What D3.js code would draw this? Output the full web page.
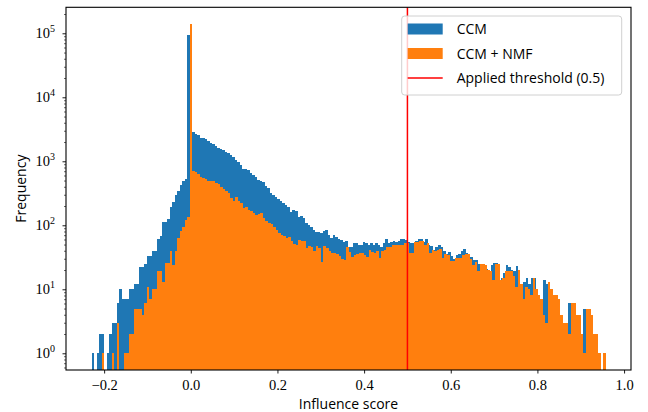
<!DOCTYPE html>
<html>
<head>
<meta charset="utf-8">
<script src="https://cdn.jsdelivr.net/npm/d3@7"></script>
<style>
  html, body { margin: 0; padding: 0; background: #fff; }
  svg { display: block; }
</style>
</head>
<body>
<svg id="chart" width="648" height="412"></svg>
<script>
// ---------------- data ----------------
const seriesNames = ["CCM", "CCM + NMF"];
const thresholdLabel = "Applied threshold (0.5)";
const thresholdValue = 0.5;
const xLabel = "Influence score";
const yLabel = "Frequency";
const xTickValues = [-0.2, 0.0, 0.2, 0.4, 0.6, 0.8, 1.0];
const yMajorExponents = [0, 1, 2, 3, 4, 5];

// CCM histogram: 200 bins starting at ccmBinStart with width ccmBinWidth
const ccmBinStart = -0.2285;
const ccmBinWidth = 0.00579;
const ccmCounts = [
  1, 0, 1, 2, 2, 0, 1, 2, 3, 3,
  6, 10, 7, 7, 7, 10, 10, 12, 12, 22,
  22, 25, 33, 33, 39, 39, 61, 69, 114, 114,
  126, 195, 230, 297, 340, 425, 490, 520, 94000, 2870,
  2820, 2680, 2600, 2340, 2280, 2200, 2100, 1950, 1850, 1750,
  1620, 1560, 1480, 1410, 1350, 1250, 1180, 1050, 985, 870,
  760, 760, 731, 650, 611, 560, 510, 490, 470, 410,
  378, 316, 300, 274, 257, 240, 221, 205, 190, 163,
  174, 170, 136, 140, 130, 107, 100, 95, 84, 79,
  78, 75, 80, 84, 70, 63, 70, 66, 60, 59,
  55, 57, 46, 46, 52, 52, 49, 49, 55, 52,
  49, 52, 49, 52, 49, 46, 52, 61, 52, 55,
  56, 55, 57, 60, 60, 58, 55, 53, 53, 57,
  60, 60, 55, 60, 50, 48, 41, 45, 49, 45,
  40, 36, 38, 33, 30, 34, 36, 40, 42, 37,
  32, 32, 29, 29, 25, 25, 22, 21, 19, 24,
  26, 26, 14, 15, 18, 24, 22, 20, 19, 23,
  8, 12, 13, 15, 12, 15, 15, 10, 7, 4,
  14, 12, 9, 8, 6, 6, 3, 0, 3, 3,
  6, 4, 6, 2, 3, 2, 5, 4, 2, 1
];

// CCM + NMF histogram: 200 bins
const nmfBinStart = -0.206;
const nmfBinWidth = 0.00582;
const nmfCounts = [
  1, 0, 0, 0, 1, 0, 3, 0, 0, 1,
  1, 2, 2, 5, 5, 5, 4, 6, 11, 7,
  10, 10, 19, 19, 13, 26, 26, 39, 24, 40,
  63, 80, 95, 120, 135, 140000, 710, 690, 640, 562,
  542, 520, 492, 492, 492, 460, 442, 400, 365, 347,
  320, 264, 243, 274, 240, 221, 184, 191, 175, 169,
  154, 145, 150, 154, 129, 117, 110, 105, 95, 85,
  77, 71, 67, 63, 65, 56, 51, 49, 58, 56,
  56, 44, 48, 46, 39, 48, 44, 27, 48, 44,
  40, 37, 37, 35, 33, 30, 29, 45, 38, 32,
  34, 35, 37, 37, 34, 32, 41, 38, 37, 39,
  31, 39, 41, 46, 46, 49, 49, 49, 49, 49,
  52, 52, 37, 37, 54, 54, 56, 56, 49, 53,
  37, 41, 39, 41, 42, 31, 36, 34, 28, 28,
  31, 31, 31, 34, 36, 36, 30, 24, 27, 19,
  25, 25, 24, 20, 19, 14, 25, 25, 14, 15,
  19, 19, 19, 16, 11, 20, 12, 7, 11, 10,
  8, 15, 10, 8, 7, 4, 3, 13, 10, 8,
  8, 7, 4, 3, 3, 2, 6, 6, 4, 4,
  2, 1, 5, 5, 4, 2, 2, 1, 0, 1
];

// ---------------- layout ----------------
const W = 648, H = 412;
const plot = { left: 66, right: 631, top: 7.3, bottom: 370 };
const colors = { ccm: "#1f77b4", nmf: "#ff7f0e", thr: "#ff0000" };
const sansFont = "'Open Sans', Lato, sans-serif";
const serifFont = "'Liberation Serif', 'DejaVu Serif', serif";

const svg = d3.select("#chart");

const x = d3.scaleLinear().domain([-0.288, 1.016]).range([plot.left, plot.right]);
const y = d3.scaleLog().domain([0.548, 254800]).range([plot.bottom, plot.top]);

svg.append("defs").append("clipPath").attr("id", "clip")
  .append("rect")
  .attr("x", plot.left).attr("y", plot.top)
  .attr("width", plot.right - plot.left).attr("height", plot.bottom - plot.top);

const g = svg.append("g").attr("clip-path", "url(#clip)");

function binsOf(counts, start, width) {
  return counts.map((c, i) => ({ x0: start + i * width, x1: start + (i + 1) * width, c }))
               .filter(d => d.c > 0);
}

function drawHist(bins, color) {
  g.append("g").selectAll("rect").data(bins).join("rect")
    .attr("x", d => x(d.x0))
    .attr("width", d => x(d.x1) - x(d.x0) + 0.02)
    .attr("y", d => y(d.c))
    .attr("height", d => plot.bottom - y(d.c))
    .attr("fill", color)
    .attr("shape-rendering", "crispEdges");
}

drawHist(binsOf(ccmCounts, ccmBinStart, ccmBinWidth), colors.ccm);
drawHist(binsOf(nmfCounts, nmfBinStart, nmfBinWidth), colors.nmf);

// threshold line
g.append("line")
  .attr("x1", x(thresholdValue)).attr("x2", x(thresholdValue))
  .attr("y1", plot.top).attr("y2", plot.bottom)
  .attr("stroke", colors.thr).attr("stroke-width", 1.5);

// ---------------- axes ----------------
const xAxis = d3.axisBottom(x).tickValues(xTickValues)
  .tickSize(3.5).tickPadding(3.5).tickFormat(d3.format(".1f"));
const xg = svg.append("g").attr("transform", `translate(0,${plot.bottom})`).call(xAxis);
xg.select(".domain").remove();
xg.selectAll(".tick line").attr("stroke", "#000").attr("stroke-width", 0.9);
xg.selectAll(".tick text")
  .attr("font-family", serifFont).attr("font-size", 14.5).attr("fill", "#000")
  .attr("dy", null).attr("y", 20);

// y major ticks
const majorVals = yMajorExponents.map(e => Math.pow(10, e));
const yAxisMajor = d3.axisLeft(y).tickValues(majorVals).tickSize(3.5).tickFormat("");
const ygMaj = svg.append("g").attr("transform", `translate(${plot.left},0)`).call(yAxisMajor);
ygMaj.select(".domain").remove();
ygMaj.selectAll(".tick line").attr("stroke", "#000").attr("stroke-width", 0.9);

// y minor ticks
const minorVals = [];
for (let e = -1; e <= 5; e++) {
  for (let m = 2; m <= 9; m++) {
    const v = m * Math.pow(10, e);
    if (v >= y.domain()[0] && v <= y.domain()[1]) minorVals.push(v);
  }
}
const yAxisMinor = d3.axisLeft(y).tickValues(minorVals).tickSize(2).tickFormat("");
const ygMin = svg.append("g").attr("transform", `translate(${plot.left},0)`).call(yAxisMinor);
ygMin.select(".domain").remove();
ygMin.selectAll(".tick line").attr("stroke", "#000").attr("stroke-width", 0.6);

// y tick labels 10^k
const yLabels = svg.append("g");
yMajorExponents.forEach(e => {
  const t = yLabels.append("text")
    .attr("x", 55).attr("y", y(Math.pow(10, e)) + 5)
    .attr("text-anchor", "end")
    .attr("font-family", serifFont).attr("font-size", 14.5).attr("fill", "#000");
  t.append("tspan").text("10");
  t.append("tspan").attr("dy", -6).attr("font-size", 10).text(String(e));
});

// spines
svg.append("rect")
  .attr("x", plot.left).attr("y", plot.top)
  .attr("width", plot.right - plot.left).attr("height", plot.bottom - plot.top)
  .attr("fill", "none").attr("stroke", "#000").attr("stroke-width", 1.1);

// axis labels
svg.append("text")
  .attr("x", (plot.left + plot.right) / 2).attr("y", 409)
  .attr("text-anchor", "middle")
  .attr("font-family", sansFont).attr("font-size", 14).attr("fill", "#000")
  .text(xLabel);
svg.append("text")
  .attr("transform", `translate(26,${(plot.top + plot.bottom) / 2}) rotate(-90)`)
  .attr("text-anchor", "middle")
  .attr("font-family", sansFont).attr("font-size", 14).attr("fill", "#000")
  .text(yLabel);

// ---------------- legend ----------------
const lg = svg.append("g");
lg.append("rect")
  .attr("x", 401.7).attr("y", 16).attr("width", 220).attr("height", 79).attr("rx", 3)
  .attr("fill", "#fff").attr("fill-opacity", 0.8)
  .attr("stroke", "#d0d0d0").attr("stroke-width", 1);
const items = [
  { name: seriesNames[0], type: "patch", color: colors.ccm },
  { name: seriesNames[1], type: "patch", color: colors.nmf },
  { name: thresholdLabel, type: "line", color: colors.thr }
];
items.forEach((it, i) => {
  const cy = 29 + i * 24.5;
  if (it.type === "patch") {
    lg.append("rect").attr("x", 407.7).attr("y", cy - 5.5).attr("width", 35).attr("height", 11)
      .attr("fill", it.color);
  } else {
    lg.append("line").attr("x1", 407.7).attr("x2", 442.7).attr("y1", cy).attr("y2", cy)
      .attr("stroke", it.color).attr("stroke-width", 1.5);
  }
  lg.append("text").attr("x", 456.7).attr("y", cy + 5)
    .attr("font-family", sansFont).attr("font-size", 14).attr("fill", "#000")
    .text(it.name);
});
</script>
</body>
</html>
